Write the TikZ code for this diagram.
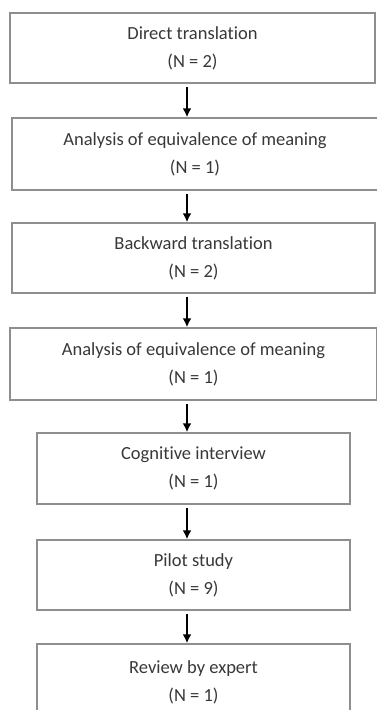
\documentclass[tikz,border=0pt]{standalone}
\usepackage{fontspec}
\setmainfont[Ligatures=NoCommon]{Carlito}
\usetikzlibrary{arrows.meta}
\definecolor{boxgrey}{HTML}{8E8E8E}
\definecolor{textgrey}{HTML}{383838}
\tikzset{
  stage/.style={draw=boxgrey, line width=1.5pt, text=textgrey, align=center,
    inner sep=0pt, font=\fontsize{18.5}{28}\selectfont},
  flow/.style={-{Latex[length=9pt,width=9pt]}, line width=2pt, black, shorten <=3pt}
}
\begin{document}
\begin{tikzpicture}[x=1pt,y=-1pt]
        % Marco de la figura
        \useasboundingbox (0,0) rectangle (377,710);
        \coordinate (axis) at (187,0);
        % Cajas de las etapas
        \node[stage, minimum width=365pt, minimum height=70pt] (direct) at (192.5,48) {Direct translation\\(N = 2)};
        \node[stage, minimum width=366pt, minimum height=72pt] (equivA) at (195,154) {Analysis of equivalence of meaning\\(N = 1)};
        \node[stage, minimum width=363pt, minimum height=70pt] (backward) at (193.5,258) {Backward translation\\(N = 2)};
        \node[stage, minimum width=367pt, minimum height=72pt] (equivB) at (193.5,364) {Analysis of equivalence of meaning\\(N = 1)};
        \node[stage, minimum width=313pt, minimum height=71pt] (cognitive) at (193.5,468.5) {Cognitive interview\\(N = 1)};
        \node[stage, minimum width=313pt, minimum height=70pt] (pilot) at (193.5,575) {Pilot study\\(N = 9)};
        \node[stage, minimum width=313pt, minimum height=76pt] (expert) at (193.5,682) {Review by expert\\(N = 1)};
        % Flechas entre etapas
        \draw[flow] (direct.south -| axis) -- (equivA.north -| axis);
        \draw[flow] (equivA.south -| axis) -- (backward.north -| axis);
        \draw[flow] (backward.south -| axis) -- (equivB.north -| axis);
        \draw[flow] (equivB.south -| axis) -- (cognitive.north -| axis);
        \draw[flow] (cognitive.south -| axis) -- (pilot.north -| axis);
        \draw[flow] (pilot.south -| axis) -- (expert.north -| axis);
\end{tikzpicture}
\end{document}
